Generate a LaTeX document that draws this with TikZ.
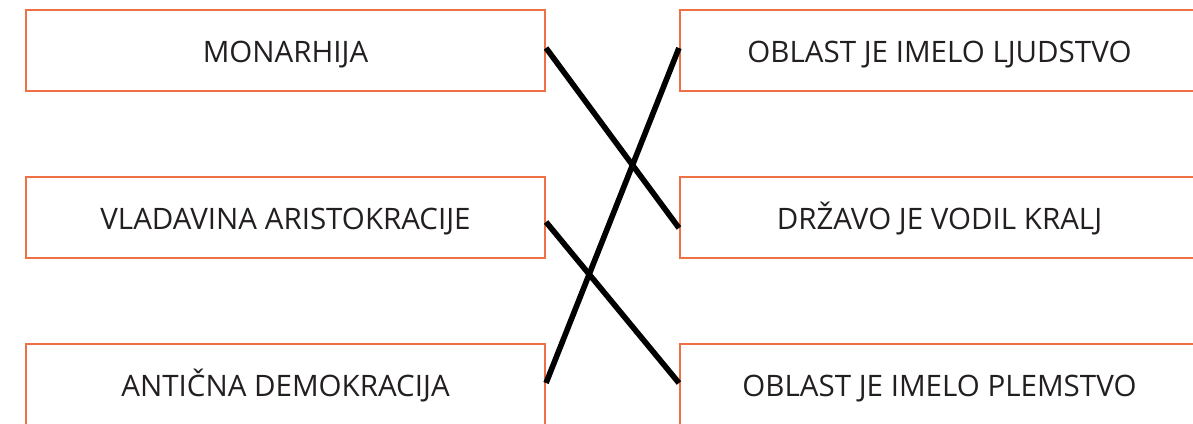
\documentclass[tikz,border=0pt]{standalone}
\usepackage{fontspec}
\setmainfont{Open Sans}
\definecolor{okvir}{RGB}{240,112,70}
\definecolor{besedilo}{RGB}{35,31,32}
\tikzset{
  polje/.style={draw=okvir, line width=1.4pt, minimum width=12.975cm,
    minimum height=2.025cm, inner sep=0pt, text=besedilo,
    text height=16.4pt, text depth=0pt,
    font=\fontsize{21}{25}\selectfont},
  zveza/.style={line width=4pt}
}
\begin{document}
\begin{tikzpicture}[x=0.025cm,y=0.025cm]
          \useasboundingbox (0,0) rectangle (1193,423);
          \clip (0,0) rectangle (1193,423);
          % levi stolpec
          \node[polje] (mon) at (285.5,372.5) {MONARHIJA};
          \node[polje] (ari) at (285.5,205.5) {VLADAVINA ARISTOKRACIJE};
          \node[polje] (dem) at (285.5,38.5) {ANTIČNA DEMOKRACIJA};
          % desni stolpec
          \node[polje] (ljud) at (939.5,372.5) {OBLAST JE IMELO LJUDSTVO};
          \node[polje] (kralj) at (939.5,205.5) {DRŽAVO JE VODIL KRALJ};
          \node[polje] (plem) at (939.5,38.5) {OBLAST JE IMELO PLEMSTVO};
          % povezave
          \draw[zveza] ([yshift=2.5*0.025cm]mon.east) -- ([yshift=-10.5*0.025cm]kralj.west);
          \draw[zveza] ([yshift=2.5*0.025cm]ljud.west) -- ([yshift=1.5*0.025cm]dem.east);
          \draw[zveza] ([yshift=-4.5*0.025cm]ari.east) -- ([yshift=1.5*0.025cm]plem.west);
\end{tikzpicture}
\end{document}
